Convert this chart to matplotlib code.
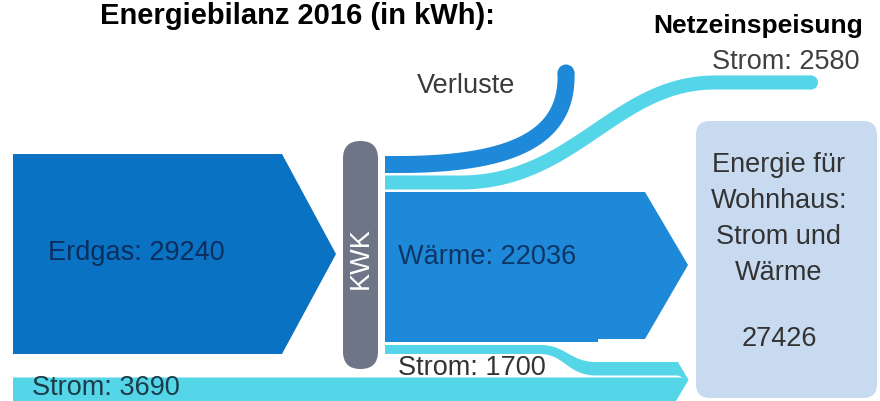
import numpy as np
import matplotlib.pyplot as plt
from matplotlib.patches import Polygon, Circle, FancyBboxPatch

plt.rcParams["font.family"] = ["Liberation Sans", "DejaVu Sans"]

# -------------------------
# Data (kWh, 2016)
# -------------------------
year = 2016
erdgas = 29240
waerme = 22036
strom_kwk = 1700
strom_netz = 2580
strom_bezug = 3690
wohnhaus = 27426

# -------------------------
# Colours
# -------------------------
c_gas = "#0a72c2"
c_heat = "#1e89d8"
c_power = "#55d5e8"
c_kwk = "#6d7586"
c_box = "#c7daf0"


def bezier(p0, p1, p2, p3, n=80):
    t = np.linspace(0, 1, n)[:, None]
    p0, p1, p2, p3 = map(np.asarray, (p0, p1, p2, p3))
    return (1 - t) ** 3 * p0 + 3 * (1 - t) ** 2 * t * p1 + 3 * (1 - t) * t ** 2 * p2 + t ** 3 * p3


def ribbon(ax, pts, width, color, round_end=True):
    d = np.gradient(pts, axis=0)
    nrm = np.stack([-d[:, 1], d[:, 0]], axis=1)
    nrm /= np.linalg.norm(nrm, axis=1)[:, None]
    left = pts + nrm * width / 2
    right = pts - nrm * width / 2
    ax.add_patch(Polygon(np.vstack([left, right[::-1]]), closed=True, color=color, lw=0))
    if round_end:
        ax.add_patch(Circle(pts[-1], width / 2, color=color, lw=0))


fig = plt.figure(figsize=(8.8, 4.02), dpi=100)
ax = fig.add_axes([0, 0, 1, 1])
ax.set_xlim(0, 880)
ax.set_ylim(402, 0)
ax.axis("off")

# Erdgas arrow
ax.add_patch(Polygon([(13, 155), (282, 155), (336, 255), (282, 355), (13, 355)],
                     closed=True, color=c_gas, lw=0))

# Strom bezug bar
ax.add_patch(Polygon([(13, 378.5), (687, 378.5), (688.5, 381), (676, 402), (13, 402)],
                     closed=True, color=c_power, lw=0))

# KWK block
ax.add_patch(FancyBboxPatch((343, 142), 35, 228,
                            boxstyle="round,pad=0,rounding_size=17.5",
                            color=c_kwk, lw=0))

# Verluste
pts = np.vstack([[[385, 165.5]], bezier((398, 165.5), (520, 165.5), (568, 135), (566, 74))])
ribbon(ax, pts, 17, c_heat)

# Netzeinspeisung
pts = np.vstack([[[385, 183.5]],
                 bezier((460, 183.5), (575, 183.5), (615, 83.5), (715, 83.5)),
                 [[811, 83.5]]])
ribbon(ax, pts, 14, c_power)

# Waerme arrow
ax.add_patch(Polygon([(385, 193), (645, 193), (688, 266), (645, 340), (598, 340),
                      (598, 343), (385, 343)], closed=True, color=c_heat, lw=0))

# Strom aus KWK to house
top = np.vstack([[[385, 346]], bezier((540, 346), (566, 346), (570, 363), (596, 363)), [[678, 363]]])
bot = np.vstack([[[678, 376.5]], bezier((596, 376.5), (568, 376.5), (564, 355), (540, 355)), [[385, 355]]])
ax.add_patch(Polygon(np.vstack([top, [[688.5, 381]], bot]), closed=True, color=c_power, lw=0))

# house box
ax.add_patch(FancyBboxPatch((696, 122), 181, 277,
                            boxstyle="round,pad=0,rounding_size=14",
                            color=c_box, lw=0))

# -------------------------
# Text
# -------------------------
fs = 19.5
ax.text(297, 24, f"Energiebilanz {year} (in kWh):", fontsize=21, fontweight="bold",
        ha="center", va="baseline", color="black")
ax.text(758, 33, "Netzeinspeisung", fontsize=19, fontweight="bold",
        ha="center", va="baseline", color="black")
ax.text(860, 69, f"Strom: {strom_netz}", fontsize=fs, ha="right", va="baseline", color="#404040")
ax.text(466, 93, "Verluste", fontsize=fs, ha="center", va="baseline", color="#3a3a3a")
ax.text(48, 260, f"Erdgas: {erdgas}", fontsize=fs, ha="left", va="baseline", color="#0c2d5e")
ax.text(361, 258, "KWK", fontsize=fs, ha="center", va="center", rotation=90, color="white")
ax.text(398, 264, f"Wärme: {waerme}", fontsize=fs, ha="left", va="baseline", color="#0d3566")
ax.text(398, 375, f"Strom: {strom_kwk}", fontsize=fs, ha="left", va="baseline", color="#333333")
ax.text(32, 395, f"Strom: {strom_bezug}", fontsize=fs, ha="left", va="baseline", color="#1a3b48")

box_lines = ["Energie für", "Wohnhaus:", "Strom und", "Wärme"]
for i, line in enumerate(box_lines):
    ax.text(779, 172 + i * 36, line, fontsize=fs, ha="center", va="baseline", color="#333333")
ax.text(779, 346, f"{wohnhaus}", fontsize=fs, ha="center", va="baseline", color="#333333")

fig.savefig("out.png", dpi=100)
